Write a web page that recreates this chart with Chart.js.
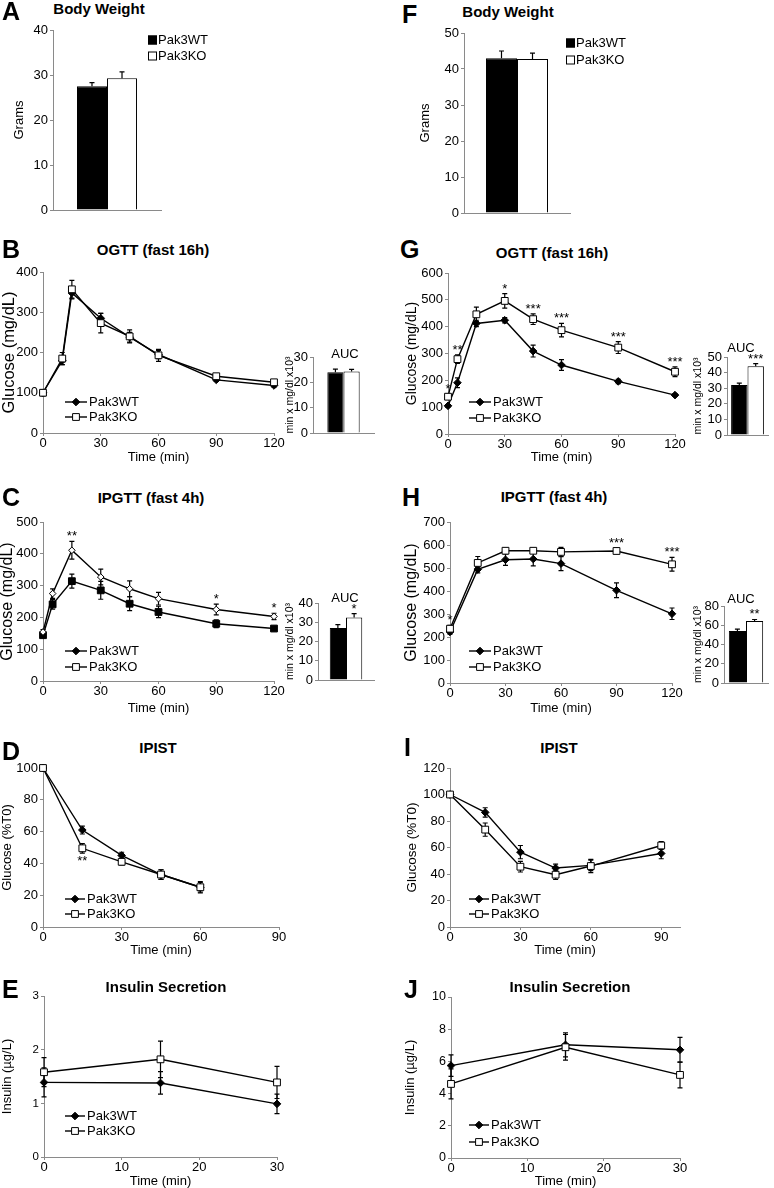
<!DOCTYPE html>
<html>
<head>
<meta charset="utf-8">
<script src="https://cdn.jsdelivr.net/npm/chart.js@4.4.1/dist/chart.umd.min.js"></script>
<style>
  body { margin: 0; background: #fff; width: 774px; height: 1188px; position: relative; overflow: hidden;
         font-family: "Liberation Sans", Arial, Helvetica, sans-serif; color: #000; }
  canvas { position: absolute; }
  .lt { position: absolute; font-weight: bold; font-size: 25px; line-height: 1; }
  .tt { position: absolute; font-weight: bold; font-size: 15px; line-height: 1; white-space: nowrap; transform: translate(-50%, -50%); }
  .auc { position: absolute; font-size: 13px; line-height: 1; transform: translate(-50%, -50%); }
</style>
</head>
<body>
<script>
// ---- data ----
const groups = ["Pak3WT", "Pak3KO"];

// body weight, grams
const bwLean = [27.5, 29.3];
const bwLeanErr = [0.8, 1.4];
const bwObese = [43.0, 42.8];
const bwObeseErr = [2.0, 1.6];

// OGTT lean (B)
const ogttLeanT = [0, 10, 15, 30, 45, 60, 90, 120];
const ogttLeanWT = [100, 180, 348, 285, 238, 195, 132, 118];
const ogttLeanKO = [100, 185, 357, 273, 240, 193, 141, 126];
const ogttLeanWTErr = [5, 10, 15, 12, 12, 10, 4, 4];
const ogttLeanKOErr = [8, 15, 22, 24, 16, 15, 6, 5];
const aucOgttLean = [24.0, 24.3];
const aucOgttLeanErr = [1.2, 0.8];

// OGTT obese (G)
const ogttObT = [0, 5, 15, 30, 45, 60, 90, 120];
const ogttObWT = [105, 191, 412, 424, 309, 257, 196, 145];
const ogttObKO = [139, 279, 446, 496, 428, 387, 322, 232];
const ogttObWTErr = [5, 18, 12, 10, 22, 20, 8, 5];
const ogttObKOErr = [10, 16, 27, 27, 20, 25, 22, 18];
const ogttObStars = ["*", "**", "", "*", "***", "***", "***", "***"];
const aucOgttOb = [32.0, 44.0];
const aucOgttObErr = [1.2, 1.8];
const aucOgttObStars = ["", "***"];

// IPGTT lean (C)
const ipgttLeanT = [0, 5, 15, 30, 45, 60, 90, 120];
const ipgttLeanWT = [144, 241, 314, 285, 243, 217, 180, 165];
const ipgttLeanKO = [154, 275, 411, 327, 290, 259, 225, 203];
const ipgttLeanWTErr = [8, 15, 22, 28, 22, 18, 12, 6];
const ipgttLeanKOErr = [8, 15, 28, 25, 25, 20, 17, 10];
const ipgttLeanStars = ["", "", "**", "", "", "", "*", "*"];
const aucIpgttLean = [27.0, 32.5];
const aucIpgttLeanErr = [1.8, 2.0];
const aucIpgttLeanStars = ["", "*"];

// IPGTT obese (H)
const ipgttObT = [0, 15, 30, 45, 60, 90, 120];
const ipgttObWT = [222, 494, 536, 539, 519, 403, 301];
const ipgttObKO = [236, 522, 575, 575, 570, 574, 516];
const ipgttObWTErr = [10, 15, 25, 30, 30, 32, 25];
const ipgttObKOErr = [15, 28, 10, 12, 20, 12, 30];
const ipgttObStars = ["*", "", "", "", "", "***", "***"];
const aucIpgttOb = [54.0, 64.5];
const aucIpgttObErr = [2.0, 1.5];
const aucIpgttObStars = ["", "**"];

// IPIST lean (D), % of T0
const ipistLeanT = [0, 15, 30, 45, 60];
const ipistLeanWT = [100, 61, 45, 33, 25];
const ipistLeanKO = [100, 49.5, 41, 33, 25];
const ipistLeanWTErr = [0, 2.5, 2, 3, 3];
const ipistLeanKOErr = [0, 3, 2, 3, 3.5];
const ipistLeanStars = ["", "**", "", "", ""];

// IPIST obese (I)
const ipistObT = [0, 15, 30, 45, 60, 90];
const ipistObWT = [100, 86.5, 56.5, 44.5, 46.5, 55.5];
const ipistObKO = [100, 73.5, 45.5, 39.5, 46, 61.5];
const ipistObWTErr = [0, 3.5, 5, 3, 4, 4];
const ipistObKOErr = [0, 5, 4, 3.5, 5, 3];

// insulin secretion, ug/L (E, J)
const insT = [0, 15, 30];
const insLeanWT = [1.39, 1.38, 0.99];
const insLeanKO = [1.58, 1.82, 1.39];
const insLeanWTErr = [0.27, 0.21, 0.18];
const insLeanKOErr = [0.27, 0.34, 0.30];
const insObWT = [5.74, 7.03, 6.72];
const insObKO = [4.6, 6.88, 5.16];
const insObWTErr = [0.67, 0.75, 0.77];
const insObKOErr = [0.93, 0.8, 0.8];

// ---- drawing ----
const FONT = '"Liberation Sans", Arial, Helvetica, sans-serif';
const AXIS = "#8a8a8a";
Chart.defaults.font.family = FONT;
Chart.defaults.color = "#000";
Chart.defaults.animation = false;

const wtStyle = { borderColor: "#000", borderWidth: 1.4, pointStyle: "rectRot", pointRadius: 3.8,
  pointBackgroundColor: "#000", pointBorderColor: "#000", pointBorderWidth: 1 };
const koStyle = { borderColor: "#000", borderWidth: 1.4, pointStyle: "rect", pointRadius: 4.8,
  pointBackgroundColor: "#fff", pointBorderColor: "#000", pointBorderWidth: 1 };

function drawErr(chart, opts) {
  const ctx = chart.ctx;
  const ys = chart.scales.y;
  const cap = opts.cap || 2.5;
  ctx.save();
  ctx.strokeStyle = "#000";
  ctx.lineWidth = 1.2;
  chart.data.datasets.forEach((ds, i) => {
    if (!ds.errors) return;
    chart.getDatasetMeta(i).data.forEach((el, j) => {
      const e = ds.errors[j];
      if (!e) return;
      const raw = ds.data[j];
      const v = typeof raw === "object" ? raw.y : raw;
      const yTop = ys.getPixelForValue(v + e);
      const yBot = ys.getPixelForValue(opts.mode === "up" ? v : v - e);
      ctx.beginPath();
      ctx.moveTo(el.x, yTop); ctx.lineTo(el.x, yBot);
      ctx.moveTo(el.x - cap, yTop); ctx.lineTo(el.x + cap, yTop);
      if (opts.mode !== "up") { ctx.moveTo(el.x - cap, yBot); ctx.lineTo(el.x + cap, yBot); }
      ctx.stroke();
    });
  });
  ctx.restore();
}

const errorBars = {
  id: "errorBars",
  beforeDatasetsDraw(chart, args, opts) { if (opts.mode === "both") drawErr(chart, opts); },
  afterDatasetsDraw(chart, args, opts) { if (opts.mode === "up") drawErr(chart, opts); }
};

const stars = {
  id: "stars",
  afterDatasetsDraw(chart, args, o) {
    if (!o.marks) return;
    const ctx = chart.ctx, ys = chart.scales.y;
    ctx.save();
    ctx.font = (o.size || 13) + "px " + FONT;
    ctx.fillStyle = "#000";
    ctx.textAlign = "center";
    ctx.textBaseline = "alphabetic";
    o.marks.forEach((m, j) => {
      if (!m) return;
      let x, y;
      if (o.bars) {
        const ds = chart.data.datasets[j];
        x = chart.getDatasetMeta(j).data[0].x;
        y = ys.getPixelForValue(ds.data[0] + ds.errors[0]) - 1;
      } else {
        x = chart.getDatasetMeta(0).data[j].x;
        const ext = chart.data.datasets.map(ds =>
          o.below ? ds.data[j].y - ds.errors[j] : ds.data[j].y + ds.errors[j]);
        if (o.below) y = ys.getPixelForValue(Math.min(...ext)) + 12;
        else y = ys.getPixelForValue(Math.max(...ext)) - 1;
      }
      ctx.fillText(m, x, y);
    });
    ctx.restore();
  }
};

// writes the y tick values next to the axis, from the scale's own ticks
const tickText = {
  id: "tickText",
  afterDraw(chart, args, o) {
    if (!o.on) return;
    const ctx = chart.ctx, ys = chart.scales.y;
    ctx.save();
    ctx.font = (o.size || 12.5) + "px " + FONT;
    ctx.fillStyle = "#000";
    ctx.textAlign = "right";
    ctx.textBaseline = "middle";
    ys.ticks.forEach(t => ctx.fillText(String(t.value), ys.right - 5, ys.getPixelForValue(t.value)));
    ctx.restore();
  }
};

const figLegend = {
  id: "figLegend",
  afterDraw(chart, args, o) {
    if (!o.rows) return;
    const ctx = chart.ctx;
    ctx.save();
    ctx.font = "13px " + FONT;
    ctx.textBaseline = "middle";
    ctx.textAlign = "left";
    groups.forEach((g, i) => {
      const y = o.rows[i];
      ctx.strokeStyle = "#000";
      ctx.fillStyle = i === 0 ? "#000" : "#fff";
      if (o.kind === "box") {
        ctx.lineWidth = 1;
        ctx.fillRect(o.x, y - 4.5, 9, 9);
        ctx.strokeRect(o.x + 0.5, y - 4, 8, 8);
        ctx.fillStyle = "#000";
        ctx.fillText(g, o.x + 10, y + 0.5);
      } else {
        ctx.lineWidth = 1.4;
        ctx.beginPath(); ctx.moveTo(o.x, y); ctx.lineTo(o.x + o.len, y); ctx.stroke();
        const st = i === 0 ? wtStyle : koStyle;
        ctx.lineWidth = 1;
        Chart.helpers.drawPoint(ctx, { pointStyle: st.pointStyle, radius: st.pointRadius, rotation: 0, borderWidth: 1 },
          o.x + o.len / 2, y);
        ctx.fillStyle = "#000";
        ctx.fillText(g, o.x + o.len + 2, y + 0.5);
      }
    });
    ctx.restore();
  }
};

// canvas box around a plot area
function place(area, yt, xt, padTop, padRight) {
  const l = Math.round(yt.cx - 0.6 * yt.size);
  const t = Math.round(area.y0 - padTop);
  const r = Math.round(area.x1 + padRight);
  const b = Math.round(xt ? xt.cy + 0.6 * xt.size : area.y1 + 5);
  return { l, t, w: r - l, h: b - t, yW: area.x0 - l, xH: b - area.y1,
           pad: { left: 0, top: area.y0 - t, right: r - area.x1, bottom: 0 } };
}

function addCanvas(L) {
  const c = document.createElement("canvas");
  c.width = L.w; c.height = L.h;
  c.style.left = L.l + "px"; c.style.top = L.t + "px";
  c.style.width = L.w + "px"; c.style.height = L.h + "px";
  document.body.appendChild(c);
  return c;
}

// evenly spaced ticks from 0, so an axis end like 98 gets no tick of its own
function stepTicks(max, step) {
  return s => {
    const out = [];
    for (let v = 0; v <= max + 1e-9; v += step) out.push({ value: Math.round(v * 1000) / 1000 });
    s.ticks = out;
  };
}

function yScale(p, L) {
  return {
    min: 0, max: p.yMax,
    afterBuildTicks: stepTicks(p.yMax, p.yStep),
    ticks: { display: !p.ownTicks, font: { size: p.tickSize || 13 }, color: "#000", padding: 2, autoSkip: false },
    grid: { display: true, drawOnChartArea: false, drawTicks: true, tickLength: 3, color: AXIS },
    border: { color: AXIS, width: 1 },
    title: { display: true, text: p.yTitle.text, font: { size: p.yTitle.size }, color: "#000", padding: 0 },
    afterFit(s) { s.width = L.yW; s.paddingTop = 0; s.paddingBottom = 0; }
  };
}

function lineChart(p) {
  const L = place(p.area, p.yTitle, p.xTitle, 10, 14);
  const mk = (t, v) => t.map((x, i) => ({ x, y: v[i] }));
  const wt = Object.assign({}, wtStyle, p.wtPoint || {});
  const ko = Object.assign({}, koStyle, p.koPoint || {});
  new Chart(addCanvas(L), {
    type: "line",
    data: {
      datasets: [
        Object.assign({ label: groups[1], data: mk(p.t, p.ko), errors: p.koErr, order: 0, clip: false, tension: 0 }, ko),
        Object.assign({ label: groups[0], data: mk(p.t, p.wt), errors: p.wtErr, order: 1, clip: false, tension: 0 }, wt)
      ]
    },
    options: {
      responsive: false,
      layout: { padding: L.pad, autoPadding: false },
      scales: {
        x: {
          type: "linear", min: 0, max: p.xMax,
          afterBuildTicks: stepTicks(p.xMax, p.xStep),
          ticks: { font: { size: 13 }, color: "#000", padding: 0, maxRotation: 0, autoSkip: false },
          grid: { display: true, drawOnChartArea: false, drawTicks: true, tickLength: 3, color: AXIS },
          border: { color: AXIS, width: 1 },
          title: { display: true, text: p.xTitle.text, font: { size: p.xTitle.size }, color: "#000", padding: 0 },
          afterFit(s) { s.height = L.xH; s.paddingLeft = 0; s.paddingRight = 0; }
        },
        y: yScale(p, L)
      },
      plugins: {
        legend: { display: false },
        tooltip: { enabled: false },
        errorBars: { mode: "both", cap: 2.5 },
        stars: { marks: p.stars, below: p.starsBelow },
        figLegend: { kind: "line", x: p.legend.x - L.l, len: p.legend.len,
                     rows: p.legend.rows.map(r => r - L.t) }
      }
    },
    plugins: [errorBars, stars, figLegend]
  });
}

function barChart(p) {
  const L = place(p.area, p.yTitle, null, p.padTop || 10, p.padRight || 10);
  const legend = p.legend
    ? { kind: "box", x: p.legend.x - L.l, rows: p.legend.rows.map(r => r - L.t) }
    : {};
  new Chart(addCanvas(L), {
    type: "bar",
    data: {
      labels: [""],
      datasets: [
        { label: groups[0], data: [p.vals[0]], errors: [p.errs[0]], backgroundColor: "#000", borderColor: "#000",
          borderWidth: 1, categoryPercentage: p.cat, barPercentage: 1 },
        { label: groups[1], data: [p.vals[1]], errors: [p.errs[1]], backgroundColor: "#fff", borderColor: "#000",
          borderWidth: 1, categoryPercentage: p.cat, barPercentage: 1 }
      ]
    },
    options: {
      responsive: false,
      layout: { padding: L.pad, autoPadding: false },
      scales: {
        x: {
          ticks: { display: false },
          grid: { display: false },
          border: { color: AXIS, width: 1 },
          afterFit(s) { s.height = L.xH; s.paddingLeft = 0; s.paddingRight = 0; }
        },
        y: yScale(p, L)
      },
      plugins: {
        legend: { display: false },
        tooltip: { enabled: false },
        errorBars: { mode: "up", cap: 2.5 },
        stars: { marks: p.stars, bars: true },
        tickText: { on: !!p.ownTicks, size: p.tickSize },
        figLegend: legend
      }
    },
    plugins: [errorBars, stars, tickText, figLegend]
  });
}

// ---- panels ----
barChart({ area: { x0: 53, x1: 161, y0: 30, y1: 210 }, yMax: 40, yStep: 10,
  yTitle: { text: "Grams", cx: 20, size: 13 }, vals: bwLean, errs: bwLeanErr, cat: 0.556,
  legend: { x: 148, rows: [40, 56] }, padRight: 70 });
barChart({ area: { x0: 464, x1: 570, y0: 33, y1: 213 }, yMax: 50, yStep: 10,
  yTitle: { text: "Grams", cx: 426, size: 13 }, vals: bwObese, errs: bwObeseErr, cat: 0.585,
  legend: { x: 566, rows: [43, 60] }, padRight: 70 });

lineChart({ area: { x0: 43, x1: 274, y0: 272, y1: 433 }, xMax: 120, xStep: 30, yMax: 400, yStep: 100,
  t: ogttLeanT, wt: ogttLeanWT, ko: ogttLeanKO, wtErr: ogttLeanWTErr, koErr: ogttLeanKOErr,
  yTitle: { text: "Glucose (mg/dL)", cx: 10, size: 16.5 }, xTitle: { text: "Time (min)", cy: 457, size: 13 },
  legend: { x: 65, len: 22, rows: [402, 417] } });
barChart({ area: { x0: 313, x1: 374, y0: 357, y1: 433 }, yMax: 30, yStep: 10, tickSize: 13, ownTicks: true,
  yTitle: { text: "min x mg/dl x10³", cx: 290, size: 10.5 }, vals: aucOgttLean, errs: aucOgttLeanErr, cat: 0.53,
  padTop: 8, padRight: 4 });

lineChart({ area: { x0: 448, x1: 675, y0: 273, y1: 434 }, xMax: 120, xStep: 30, yMax: 600, yStep: 100,
  t: ogttObT, wt: ogttObWT, ko: ogttObKO, wtErr: ogttObWTErr, koErr: ogttObKOErr, stars: ogttObStars,
  yTitle: { text: "Glucose (mg/dL)", cx: 412, size: 14 }, xTitle: { text: "Time (min)", cy: 457, size: 13 },
  legend: { x: 469, len: 22, rows: [402, 418] } });
barChart({ area: { x0: 727, x1: 768, y0: 357, y1: 435 }, yMax: 50, yStep: 10, tickSize: 13,
  yTitle: { text: "min x mg/dl x10³", cx: 698, size: 10.5 }, vals: aucOgttOb, errs: aucOgttObErr, cat: 0.8,
  stars: aucOgttObStars, padTop: 8, padRight: 4 });

lineChart({ area: { x0: 43, x1: 274, y0: 522, y1: 681 }, xMax: 120, xStep: 30, yMax: 500, yStep: 100,
  t: ipgttLeanT, wt: ipgttLeanWT, ko: ipgttLeanKO, wtErr: ipgttLeanWTErr, koErr: ipgttLeanKOErr, stars: ipgttLeanStars,
  wtPoint: { pointStyle: "rect", pointRadius: 4.8 }, koPoint: { pointStyle: "rectRot", pointRadius: 3.3 },
  yTitle: { text: "Glucose (mg/dL)", cx: 8, size: 16 }, xTitle: { text: "Time (min)", cy: 708, size: 13 },
  legend: { x: 65, len: 22, rows: [651, 667] } });
barChart({ area: { x0: 318, x1: 374, y0: 603, y1: 680 }, yMax: 40, yStep: 10, tickSize: 13,
  yTitle: { text: "min x mg/dl x10³", cx: 290, size: 10.5 }, vals: aucIpgttLean, errs: aucIpgttLeanErr, cat: 0.58,
  stars: aucIpgttLeanStars, padTop: 8, padRight: 4 });

lineChart({ area: { x0: 450, x1: 672, y0: 522, y1: 683 }, xMax: 120, xStep: 30, yMax: 700, yStep: 100,
  t: ipgttObT, wt: ipgttObWT, ko: ipgttObKO, wtErr: ipgttObWTErr, koErr: ipgttObKOErr, stars: ipgttObStars,
  yTitle: { text: "Glucose (mg/dL)", cx: 412, size: 16 }, xTitle: { text: "Time (min)", cy: 708, size: 13 },
  legend: { x: 469, len: 22, rows: [651, 667] } });
barChart({ area: { x0: 724, x1: 768, y0: 606, y1: 683 }, yMax: 80, yStep: 20, tickSize: 13,
  yTitle: { text: "min x mg/dl x10³", cx: 698, size: 10.5 }, vals: aucIpgttOb, errs: aucIpgttObErr, cat: 0.78,
  stars: aucIpgttObStars, padTop: 8, padRight: 4 });

lineChart({ area: { x0: 43, x1: 279, y0: 768, y1: 927 }, xMax: 90, xStep: 30, yMax: 100, yStep: 20,
  t: ipistLeanT, wt: ipistLeanWT, ko: ipistLeanKO, wtErr: ipistLeanWTErr, koErr: ipistLeanKOErr,
  stars: ipistLeanStars, starsBelow: true,
  yTitle: { text: "Glucose (%T0)", cx: 8, size: 13 }, xTitle: { text: "Time (min)", cy: 950, size: 13 },
  legend: { x: 65, len: 20, rows: [899, 914] } });

lineChart({ area: { x0: 450, x1: 680, y0: 768, y1: 927 }, xMax: 98, xStep: 30, yMax: 120, yStep: 20,
  t: ipistObT, wt: ipistObWT, ko: ipistObKO, wtErr: ipistObWTErr, koErr: ipistObKOErr,
  yTitle: { text: "Glucose (%T0)", cx: 412, size: 13.5 }, xTitle: { text: "Time (min)", cy: 950, size: 13 },
  legend: { x: 469, len: 20, rows: [899, 914] } });

lineChart({ area: { x0: 44, x1: 277, y0: 996, y1: 1157 }, xMax: 30, xStep: 10, yMax: 3, yStep: 1, tickSize: 11.5,
  t: insT, wt: insLeanWT, ko: insLeanKO, wtErr: insLeanWTErr, koErr: insLeanKOErr,
  yTitle: { text: "Insulin (µg/L)", cx: 8, size: 13 }, xTitle: { text: "Time (min)", cy: 1181, size: 13 },
  legend: { x: 65, len: 20, rows: [1116, 1131] } });

lineChart({ area: { x0: 451, x1: 680, y0: 997, y1: 1158 }, xMax: 30, xStep: 10, yMax: 10, yStep: 2, tickSize: 12.5,
  t: insT, wt: insObWT, ko: insObKO, wtErr: insObWTErr, koErr: insObKOErr,
  yTitle: { text: "Insulin (µg/L)", cx: 411, size: 13 }, xTitle: { text: "Time (min)", cy: 1181, size: 13 },
  legend: { x: 469, len: 20, rows: [1125, 1142] } });

// ---- text: panel letters, titles, AUC labels ----
const letters = [["A", 2, 2], ["F", 402, 5], ["B", 2, 240], ["G", 400, 240], ["C", 2, 488],
  ["H", 402, 488], ["D", 2, 742], ["I", 404, 738], ["E", 2, 980], ["J", 404, 980]];
letters.forEach(([s, x, y]) => {
  const d = document.createElement("div");
  d.className = "lt"; d.textContent = s;
  d.style.left = x + "px"; d.style.top = (y - 3) + "px";
  document.body.appendChild(d);
});
const titles = [["Body Weight", 99, 8], ["Body Weight", 508, 11], ["OGTT (fast 16h)", 153, 249],
  ["OGTT (fast 16h)", 552, 252], ["IPGTT (fast 4h)", 151, 497], ["IPGTT (fast 4h)", 554, 496],
  ["IPIST", 158, 747], ["IPIST", 559, 747], ["Insulin Secretion", 166, 986], ["Insulin Secretion", 570, 986]];
titles.forEach(([s, x, y]) => {
  const d = document.createElement("div");
  d.className = "tt"; d.textContent = s;
  d.style.left = x + "px"; d.style.top = y + "px";
  document.body.appendChild(d);
});
[[345, 353], [741, 347], [345, 597], [741, 598]].forEach(([x, y]) => {
  const d = document.createElement("div");
  d.className = "auc"; d.textContent = "AUC";
  d.style.left = x + "px"; d.style.top = y + "px";
  document.body.appendChild(d);
});
</script>
</body>
</html>
